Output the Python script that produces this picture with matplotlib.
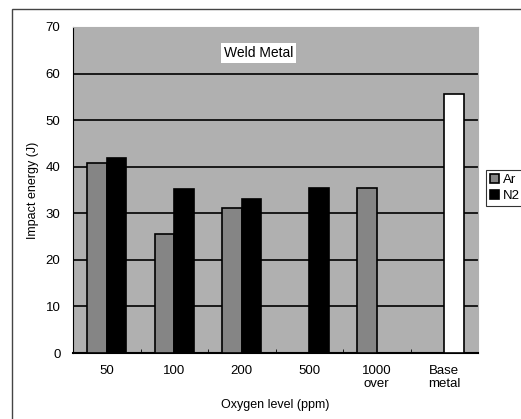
import matplotlib
matplotlib.use("Agg")
import matplotlib.pyplot as plt
import numpy as np
from matplotlib.patches import Rectangle

plt.rcParams['font.family'] = ['Liberation Sans', 'DejaVu Sans']

categories = ["50", "100", "200", "500", "1000\nover", "Base\nmetal"]
ar_values = [40.8, 25.5, 31.2, None, 35.5, None]
n2_values = [41.9, 35.2, 33.0, 35.5, None, None]
base_values = [None, None, None, None, None, 55.6]

fig = plt.figure(figsize=(5.21, 4.19), dpi=100)
ax = fig.add_axes([73/521, 1-353/419, 405/521, 326/419])

x = np.arange(len(categories))
w = 0.29
bg = '#b0b0b0'
ax.set_facecolor(bg)

for i in range(len(categories)):
    if ar_values[i] is not None:
        ax.bar(x[i] - w/2, ar_values[i], w, color='#858585', edgecolor='black', linewidth=1.2, zorder=3,
               label='Ar' if i == 0 else None)
    if n2_values[i] is not None:
        ax.bar(x[i] + w/2, n2_values[i], w, color='black', edgecolor='black', linewidth=1.2, zorder=3,
               label='N2' if i == 0 else None)
    if base_values[i] is not None:
        ax.bar(x[i] + w/2, base_values[i], w, color='white', edgecolor='black', linewidth=1.2, zorder=3)

ax.set_xlim(-0.5, len(categories) - 0.5)
ax.set_ylim(0, 70)
ax.set_yticks(range(0, 71, 10))
ax.yaxis.grid(True, color='black', linewidth=1.2, zorder=1)
ax.set_axisbelow(True)
ax.set_xticks(x)
ax.set_xticklabels(categories, fontsize=9.5, linespacing=1.1)
ax.set_xticks(np.arange(-0.5, len(categories)), minor=True)
ax.tick_params(axis='x', which='major', length=0, pad=9)
ax.tick_params(axis='x', which='minor', direction='in', length=3, color='black')
ax.tick_params(axis='y', length=0, pad=9, labelsize=9.5)
for s in ['top', 'right']:
    ax.spines[s].set_color(bg)
ax.spines['left'].set_color('black')
ax.spines['bottom'].set_color('black')
ax.spines['bottom'].set_linewidth(1.5)

ax.set_xlabel("Oxygen level (ppm)", fontsize=9, labelpad=6)
ax.set_ylabel("Impact energy (J)", fontsize=9, labelpad=5)

ax.text(2.25, 64.4, "Weld Metal", ha='center', va='center', fontsize=10,
        bbox=dict(facecolor='white', edgecolor='none', pad=2), zorder=4)

leg = ax.legend(loc='upper left', bbox_to_anchor=(486/521, 1-170/419), bbox_transform=fig.transFigure,
                frameon=True, fancybox=False, edgecolor='black', fontsize=9.5,
                handlelength=0.7, handleheight=0.7, handletextpad=0.3, borderpad=0.3,
                labelspacing=0.3, borderaxespad=0)
leg.get_frame().set_linewidth(0.8)

fig.patches.append(Rectangle((12/521, -0.01), 1.0, 1 - 9/419 + 0.01, transform=fig.transFigure,
                             fill=False, edgecolor='#444444', linewidth=1.0))

fig.savefig("out.png", dpi=100)
